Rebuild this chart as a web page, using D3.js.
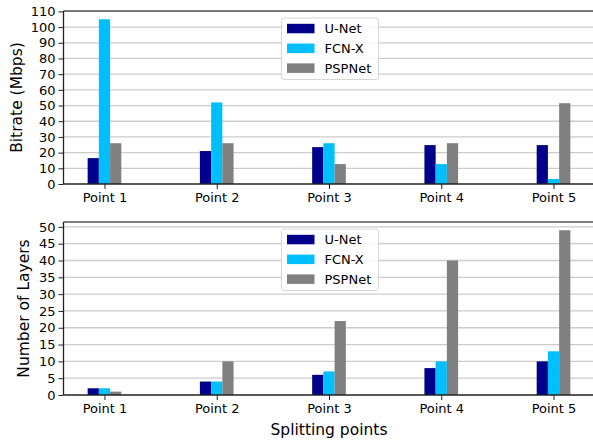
<!DOCTYPE html>
<html><head><meta charset="utf-8">
<script src="https://cdn.jsdelivr.net/npm/d3@7"></script>
<style>body{margin:0;background:#fff}svg{display:block;font-family:"DejaVu Sans",sans-serif}</style>
</head><body><svg id="c" width="593" height="441"></svg>
<script>
const categories = ["Point 1","Point 2","Point 3","Point 4","Point 5"];
const seriesNames = ["U-Net","FCN-X","PSPNet"];
const colors = ["#00008b","#00bfff","#808080"];
const bitrateUNet = [16.5, 21, 23.5, 24.8, 24.8];
const bitrateFCN = [105, 52, 26, 12.7, 3.2];
const bitratePSP = [26, 26, 12.7, 26, 51.5];
const layersUNet = [2, 4, 6, 8, 10];
const layersFCN = [2, 4, 7, 10, 13];
const layersPSP = [1, 10, 22, 40, 49];
const bitrateTicks = [0,10,20,30,40,50,60,70,80,90,100,110];
const layersTicks = [0,5,10,15,20,25,30,35,40,45,50];

const svg = d3.select("#c");
const W = 0.1;
const x = d3.scaleLinear().domain([-0.365, 4.365]).range([63.5, 594.5]);

function panel(top, bottom, data, ymax, ticks, ylabel, labelX) {
  const y = d3.scaleLinear().domain([0, ymax]).range([bottom, top]);
  const g = svg.append("g");
  // grid
  g.selectAll(".grid").data(ticks.filter(t => t > 0 && t <= ymax)).join("line")
    .attr("x1", x.range()[0]).attr("x2", x.range()[1])
    .attr("y1", d => y(d)).attr("y2", d => y(d))
    .attr("stroke", "#cccccc").attr("stroke-width", 1.3);
  // bars
  data.forEach((vals, s) => {
    g.selectAll(null).data(vals).join("rect")
      .attr("x", (d, i) => x(i + (s - 1) * W - W / 2))
      .attr("width", x(W) - x(0))
      .attr("y", d => y(d))
      .attr("height", d => y(0) - y(d))
      .attr("fill", colors[s]);
  });
  // spines
  g.append("line").attr("x1", x.range()[0]).attr("x2", x.range()[1]).attr("y1", top).attr("y2", top)
    .attr("stroke", "#555").attr("stroke-width", 1.3);
  g.append("line").attr("x1", x.range()[0]).attr("x2", x.range()[0]).attr("y1", top).attr("y2", bottom)
    .attr("stroke", "#222").attr("stroke-width", 1.3);
  // y axis
  const ya = d3.axisLeft(y).tickValues(ticks).tickSize(5).tickPadding(3).tickFormat(d3.format("d"));
  const yg = g.append("g").attr("transform", `translate(${x.range()[0]},0)`).call(ya);
  yg.select(".domain").remove();
  yg.selectAll("text").attr("font-size", 13).attr("fill", "#000").attr("font-family", "DejaVu Sans");
  yg.selectAll("line").attr("stroke", "#222");
  // x axis
  const xa = d3.axisBottom(x).tickValues(d3.range(categories.length)).tickFormat(i => categories[i]).tickSize(5).tickPadding(4);
  const xg = g.append("g").attr("transform", `translate(0,${bottom})`).call(xa);
  xg.select(".domain").attr("d", `M${x.range()[0]},0H${x.range()[1]}`).attr("stroke", "#222").attr("stroke-width", 1.3);
  xg.selectAll("text").attr("font-size", 13).attr("fill", "#000").attr("font-family", "DejaVu Sans");
  xg.selectAll(".tick line").attr("stroke", "#222");
  // y label
  g.append("text").attr("transform", `translate(${labelX},${(top + bottom) / 2}) rotate(-90)`)
    .attr("text-anchor", "middle").attr("font-size", 15.5).attr("dy", "0.35em").text(ylabel);
  // legend
  const lx = 281.5, ly = top + 7;
  const lg = g.append("g");
  lg.append("rect").attr("x", lx).attr("y", ly).attr("width", 97).attr("height", 61.5).attr("rx", 2.5)
    .attr("fill", "rgba(255,255,255,0.85)").attr("stroke", "#d6d6d6").attr("stroke-width", 1);
  seriesNames.forEach((n, s) => {
    const cy = ly + 10.5 + s * 19.8;
    lg.append("rect").attr("x", lx + 5.5).attr("y", cy - 4.7).attr("width", 27.5).attr("height", 9.5).attr("fill", colors[s]);
    lg.append("text").attr("x", lx + 43).attr("y", cy).attr("dy", "0.36em").attr("font-size", 13).text(n);
  });
}

panel(11, 184, [bitrateUNet, bitrateFCN, bitratePSP], 110.25, bitrateTicks, "Bitrate (Mbps)", 17);
panel(222, 395, [layersUNet, layersFCN, layersPSP], 51.45, layersTicks, "Number of Layers", 23.5);

svg.append("text").attr("x", (63.5 + 594.5) / 2).attr("y", 435).attr("text-anchor", "middle")
  .attr("font-size", 15.5).text("Splitting points");
</script></body></html>
